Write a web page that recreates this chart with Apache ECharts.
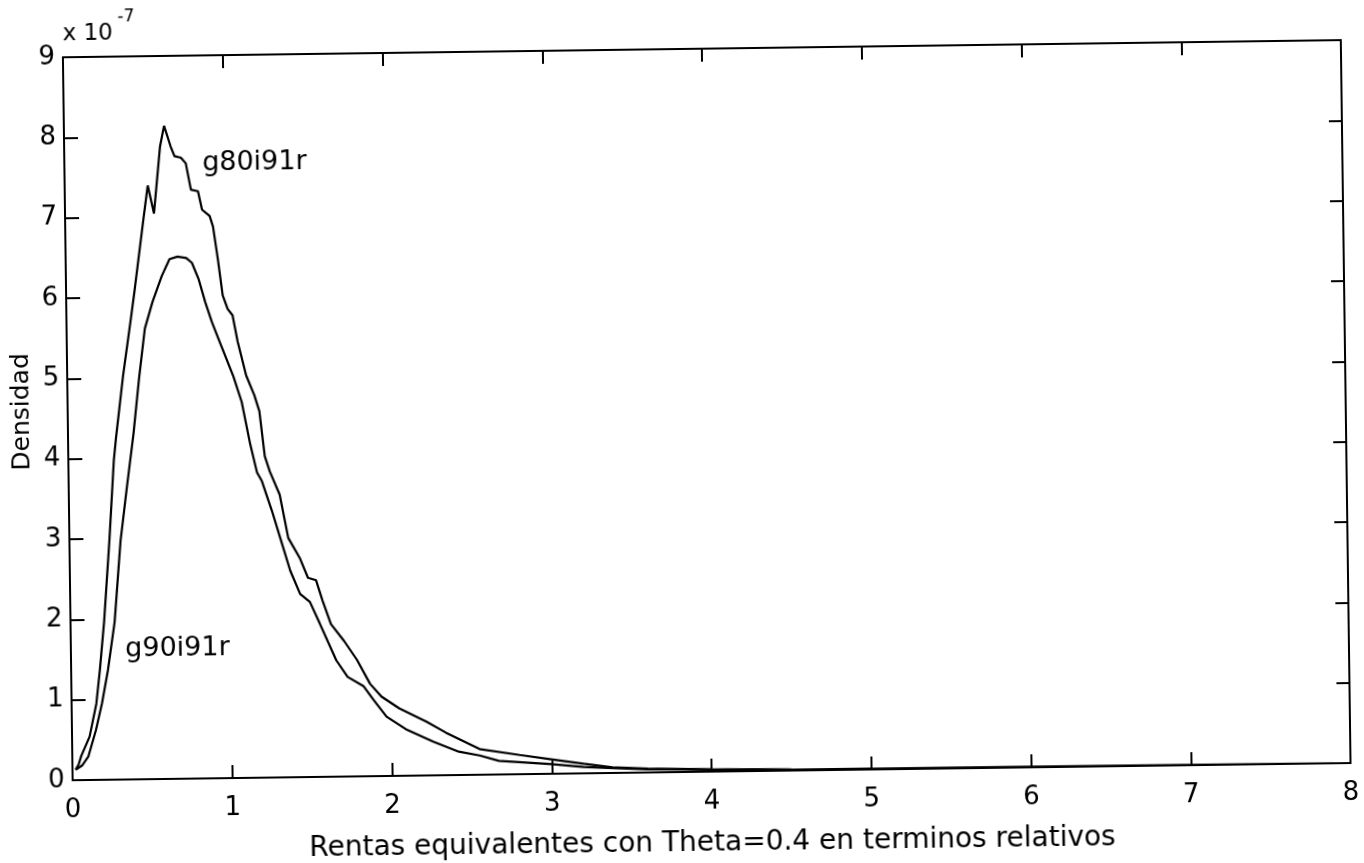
<!DOCTYPE html>
<html>
<head>
<meta charset="utf-8">
<script src="https://cdn.jsdelivr.net/npm/echarts@6/dist/echarts.min.js"></script>
<style>
  html, body { margin: 0; padding: 0; background: #fff; }
  #chart {
    width: 1364px; height: 863px;
    transform: rotate(-0.77deg);
    transform-origin: 682px 431.5px;
  }
</style>
</head>
<body>
<div id="chart"></div>
<script>
// Income density curves (values in units of 1e-7)
const seriesNames = ['g80i91r', 'g90i91r'];

const g80i91r = [
  [0.02, 0.13], [0.04, 0.20], [0.056, 0.30], [0.11, 0.54], [0.155, 0.95], [0.18, 1.37],
  [0.21, 1.96], [0.25, 2.97], [0.285, 3.98], [0.30, 4.25], [0.35, 5.03], [0.40, 5.69],
  [0.43, 6.10], [0.49, 6.97], [0.52, 7.39], [0.557, 7.04], [0.60, 7.87], [0.627, 8.13],
  [0.667, 7.87], [0.69, 7.75], [0.73, 7.73], [0.76, 7.66], [0.79, 7.33], [0.834, 7.31],
  [0.858, 7.08], [0.905, 7.00], [0.925, 6.87], [0.953, 6.46], [0.98, 6.01], [1.01, 5.84],
  [1.04, 5.76], [1.07, 5.43], [1.12, 5.01], [1.17, 4.76], [1.20, 4.56], [1.23, 4.00],
  [1.26, 3.81], [1.32, 3.52], [1.37, 2.98], [1.44, 2.73], [1.49, 2.48], [1.54, 2.45],
  [1.58, 2.19], [1.63, 1.90], [1.71, 1.69], [1.79, 1.45], [1.87, 1.15], [1.94, 0.99],
  [2.05, 0.84], [2.22, 0.67], [2.34, 0.53], [2.55, 0.32], [2.80, 0.24], [3.00, 0.18],
  [3.20, 0.12], [3.38, 0.07], [3.60, 0.05], [4.00, 0.03], [4.50, 0.015], [5.00, 0.01],
  [6.00, 0.005], [7.00, 0.002], [8.00, 0]
];

const g90i91r = [
  [0.02, 0.13], [0.06, 0.18], [0.10, 0.29], [0.15, 0.62], [0.19, 0.95], [0.23, 1.36],
  [0.276, 1.96], [0.32, 2.97], [0.365, 3.65], [0.41, 4.30], [0.45, 5.00], [0.49, 5.61],
  [0.54, 5.94], [0.60, 6.26], [0.65, 6.47], [0.70, 6.50], [0.755, 6.48], [0.79, 6.42],
  [0.83, 6.22], [0.87, 5.93], [0.91, 5.68], [0.95, 5.47], [0.99, 5.26], [1.04, 5.00],
  [1.09, 4.68], [1.14, 4.15], [1.18, 3.80], [1.21, 3.69], [1.27, 3.32], [1.32, 2.98],
  [1.38, 2.57], [1.44, 2.28], [1.50, 2.18], [1.56, 1.91], [1.66, 1.45], [1.73, 1.24],
  [1.83, 1.12], [1.89, 0.95], [1.97, 0.74], [2.09, 0.58], [2.26, 0.42], [2.42, 0.29],
  [2.55, 0.24], [2.67, 0.17], [3.00, 0.12], [3.20, 0.08], [3.38, 0.06], [3.60, 0.04],
  [4.00, 0.025], [4.50, 0.012], [5.00, 0.008], [6.00, 0.004], [7.00, 0.002], [8.00, 0]
];

// Where each curve's name is written (data coordinates)
const labelAt = [[1.19, 7.65], [0.667, 1.62]];

const xTickLabels = ['0', '1', '2', '3', '4', '5', '6', '7', '8'];
const yTickLabels = ['0', '1', '2', '3', '4', '5', '6', '7', '8', '9'];
const xTitle = 'Rentas equivalentes con Theta=0.4 en terminos relativos';
const yTitle = 'Densidad';
const scaleText = 'x 10';
const scaleExp = '-7';

const FONT = 'DejaVu Sans';
const INK = '#000';

const chart = echarts.init(document.getElementById('chart'), null, { renderer: 'canvas' });

const lineAxis = { show: true, onZero: false, lineStyle: { color: INK, width: 2 } };
const tick = (len) => ({ show: true, inside: true, length: len, lineStyle: { color: INK, width: 2 } });

function curve(name, data, at) {
  return {
    name: name,
    type: 'line',
    data: data,
    xAxisIndex: 0,
    yAxisIndex: 0,
    showSymbol: false,
    smooth: false,
    silent: true,
    lineStyle: { color: INK, width: 2.2 },
    markPoint: {
      symbol: 'rect',
      symbolSize: 1,
      silent: true,
      itemStyle: { color: 'rgba(0,0,0,0)' },
      label: {
        show: true, position: 'inside', formatter: name,
        color: INK, fontFamily: FONT, fontSize: 27
      },
      data: [{ coord: at }]
    }
  };
}

chart.setOption({
  animation: false,
  backgroundColor: '#fff',
  grid: { left: 68, right: 18, top: 49, bottom: 88, containLabel: false },
  xAxis: [
    {
      type: 'value', min: 0, max: 8, interval: 1, position: 'bottom',
      axisLine: lineAxis, axisTick: tick(13),
      axisLabel: {
        margin: 17, color: INK, fontFamily: FONT, fontSize: 26,
        formatter: (v) => xTickLabels[Math.round(v)]
      },
      splitLine: { show: false },
      name: xTitle, nameLocation: 'middle', nameGap: 58,
      nameTextStyle: { color: INK, fontFamily: FONT, fontSize: 28 }
    },
    {
      type: 'value', min: 0, max: 8, interval: 1, position: 'top',
      axisLine: lineAxis, axisTick: tick(13),
      axisLabel: { show: false }, splitLine: { show: false }
    }
  ],
  yAxis: [
    {
      type: 'value', min: 0, max: 9, interval: 1, position: 'left',
      axisLine: lineAxis, axisTick: tick(14),
      axisLabel: {
        margin: 8, color: INK, fontFamily: FONT, fontSize: 26,
        formatter: (v) => yTickLabels[Math.round(v)]
      },
      splitLine: { show: false }
    },
    {
      type: 'value', min: 0, max: 9, interval: 1, position: 'right',
      axisLine: lineAxis, axisTick: tick(13),
      axisLabel: { show: false }, splitLine: { show: false }
    }
  ],
  graphic: [
    {
      type: 'text', left: 68, top: 15,
      style: { text: scaleText, fill: INK, font: '23px "DejaVu Sans"' }
    },
    {
      type: 'text', left: 123, top: 1,
      style: { text: scaleExp, fill: INK, font: '17px "DejaVu Sans"' }
    },
    {
      type: 'text', x: 22, y: 403, rotation: Math.PI / 2,
      style: {
        text: yTitle, fill: INK, font: '25px "DejaVu Sans"',
        align: 'center', verticalAlign: 'middle'
      }
    }
  ],
  series: [
    curve(seriesNames[0], g80i91r, labelAt[0]),
    curve(seriesNames[1], g90i91r, labelAt[1])
  ]
});
</script>
</body>
</html>
